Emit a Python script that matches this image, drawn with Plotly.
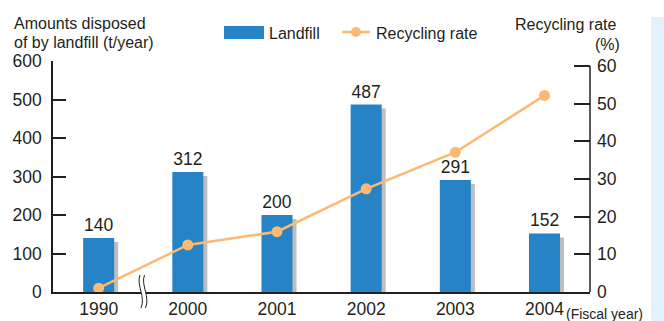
import plotly.graph_objects as go

# ---- data ----
years = ["1990", "2000", "2001", "2002", "2003", "2004"]
landfill = [140, 312, 200, 487, 291, 152]            # t/year
recycling_rate = [1.0, 12.5, 16.0, 27.4, 37.1, 52.2]  # %
left_ticks = [0, 100, 200, 300, 400, 500, 600]
right_ticks = [0, 10, 20, 30, 40, 50, 60]

# ---- styling ----
W, H = 664, 321
ML, MR, MT, MB = 53, 74, 61, 29
PW, PH = W - ML - MR, H - MT - MB
FONT = "Liberation Sans, Arial, Helvetica, sans-serif"
INK = "#231F20"
BLUE = "#2683C6"
SHADOW = "#BEBEBE"
ORANGE = "#FDB972"
BAR_W = 0.348
X_RANGE = [-0.512, 5.51]
Y2_TOP = 60 * PH / 226.0
SHADOW_DX_PX, SHADOW_DY_PX = 4, 4

x_idx = list(range(len(years)))
units_per_px_x = (X_RANGE[1] - X_RANGE[0]) / PW
units_per_px_y = 600 / PH


def px(x):
    return (x - ML) / PW


def py(y):
    return (H - MB - y) / PH


fig = go.Figure()

# drop shadow behind each bar
fig.add_trace(go.Bar(
    x=x_idx, y=[v - SHADOW_DY_PX * units_per_px_y for v in landfill],
    width=BAR_W, offset=-BAR_W / 2 + SHADOW_DX_PX * units_per_px_x,
    marker=dict(color=SHADOW, line=dict(width=0)),
    hoverinfo="skip", showlegend=False,
))

# landfill bars
fig.add_trace(go.Bar(
    x=x_idx, y=landfill, width=BAR_W, offset=-BAR_W / 2,
    marker=dict(color=BLUE, line=dict(width=0)),
    text=[str(v) for v in landfill], textposition="outside",
    textfont=dict(family=FONT, size=17.5, color=INK),
    cliponaxis=False, name="Landfill", showlegend=False,
))

# recycling rate line
fig.add_trace(go.Scatter(
    x=x_idx, y=recycling_rate, yaxis="y2", mode="lines+markers",
    line=dict(color=ORANGE, width=2.5),
    marker=dict(color=ORANGE, size=11),
    cliponaxis=False, name="Recycling rate", showlegend=False,
))

shapes = []
# light blue side panel
shapes.append(dict(type="rect", xref="paper", yref="paper",
                   x0=px(651), x1=px(664), y0=py(17), y1=py(321),
                   fillcolor="#E2F1FB", line=dict(width=0), layer="below"))
# right axis spine (0 to 60)
shapes.append(dict(type="line", xref="paper", yref="y2", x0=1, x1=1,
                   y0=0, y1=60, line=dict(color=INK, width=1.5)))

# axis break mark between 1990 and 2000
c1 = [(140, 275), (136, 285), (146, 297), (141, 308)]
c2 = [(x + 4.5, y) for x, y in c1]


def P(p):
    return f"{px(p[0]):.5f},{py(p[1]):.5f}"


fill_path = (f"M {P(c1[0])} C {P(c1[1])} {P(c1[2])} {P(c1[3])} "
             f"L {P(c2[3])} C {P(c2[2])} {P(c2[1])} {P(c2[0])} Z")
shapes.append(dict(type="path", xref="paper", yref="paper", path=fill_path,
                   fillcolor="white", line=dict(width=0)))
for c in (c1, c2):
    shapes.append(dict(type="path", xref="paper", yref="paper",
                       path=f"M {P(c[0])} C {P(c[1])} {P(c[2])} {P(c[3])}",
                       line=dict(color=INK, width=1)))

# legend keys
shapes.append(dict(type="rect", xref="paper", yref="paper",
                   x0=px(224), x1=px(264), y0=py(39), y1=py(26),
                   fillcolor=BLUE, line=dict(width=0)))
shapes.append(dict(type="line", xref="paper", yref="paper",
                   x0=px(342), x1=px(370), y0=py(32), y1=py(32),
                   line=dict(color=ORANGE, width=2.5)))
shapes.append(dict(type="circle", xref="paper", yref="paper",
                   x0=px(351), x1=px(361), y0=py(37), y1=py(27),
                   fillcolor=ORANGE, line=dict(width=0)))


def label(text, x, y, anchor="left", size=16):
    return dict(text=text, xref="paper", yref="paper", x=px(x), y=py(y),
                xanchor=anchor, yanchor="middle", showarrow=False,
                font=dict(family=FONT, size=size, color=INK))


annotations = [
    label("Amounts disposed", 12, 24),
    label("of by landfill (t/year)", 12, 43),
    label("Landfill", 267, 33),
    label("Recycling rate", 374, 33),
    label("Recycling rate", 618, 25, anchor="right"),
    label("(%)", 622, 45, anchor="right"),
    label("(Fiscal year)", 564, 314, size=14),
]

fig.update_layout(
    width=W, height=H,
    margin=dict(l=ML, r=MR, t=MT, b=MB, pad=0),
    paper_bgcolor="white", plot_bgcolor="white",
    barmode="overlay", showlegend=False,
    font=dict(family=FONT, color=INK),
    shapes=shapes, annotations=annotations,
    xaxis=dict(range=X_RANGE, tickvals=x_idx, ticktext=years,
               showgrid=False, zeroline=False, ticks="",
               showline=True, linecolor=INK, linewidth=1.5,
               tickfont=dict(family=FONT, size=17.5, color=INK),
               automargin=False, fixedrange=True),
    yaxis=dict(range=[0, 600], tickvals=left_ticks, showgrid=False,
               zeroline=False, ticks="inside", ticklen=13, tickwidth=1.5,
               tickcolor=INK, showline=True, linecolor=INK, linewidth=1.5,
               tickfont=dict(family=FONT, size=17.5, color=INK),
               ticklabelstandoff=6, automargin=False, fixedrange=True),
    yaxis2=dict(range=[0, Y2_TOP], tickvals=right_ticks, overlaying="y",
                side="right", showgrid=False, zeroline=False,
                ticks="inside", ticklen=16, tickwidth=1.5, tickcolor=INK,
                showline=False,
                tickfont=dict(family=FONT, size=17.5, color=INK),
                ticklabelstandoff=6, automargin=False, fixedrange=True),
)

fig.write_html("out.html")
